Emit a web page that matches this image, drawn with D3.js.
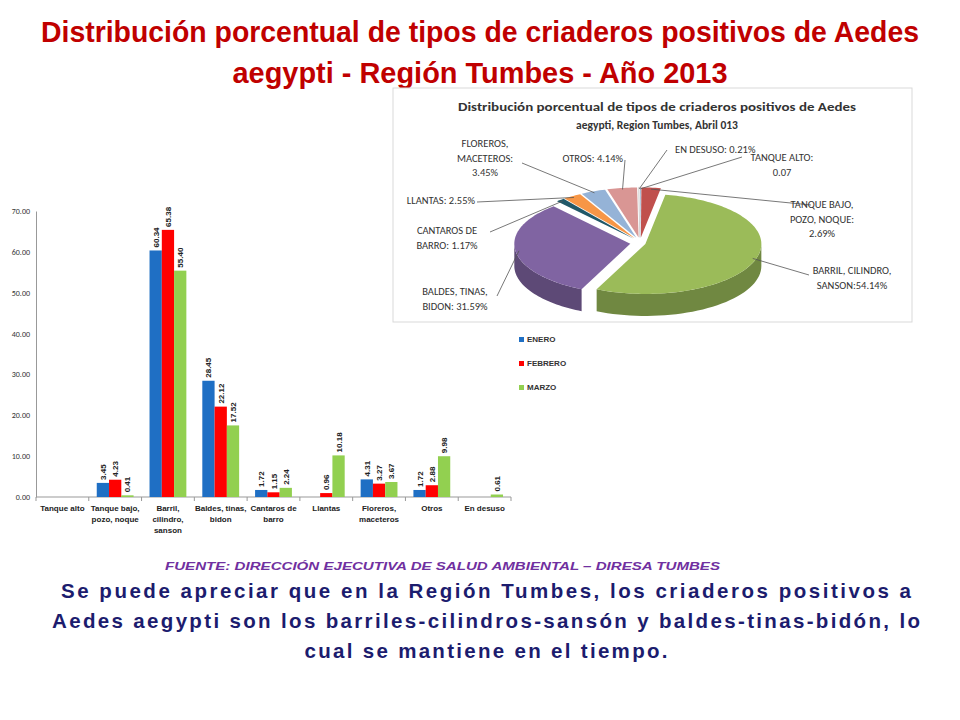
<!DOCTYPE html>
<html><head><meta charset="utf-8">
<script src="https://cdn.jsdelivr.net/npm/d3@7"></script>
<style>body{margin:0;background:#fff}svg{display:block}</style></head>
<body><svg id="c" width="960" height="720"></svg>
<script>
const categories = [["Tanque alto"],["Tanque bajo,","pozo, noque"],["Barril,","cilindro,","sanson"],["Baldes, tinas,","bidon"],["Cantaros de","barro"],["Llantas"],["Floreros,","maceteros"],["Otros"],["En desuso"]];
const enero   = [null,3.45,60.34,28.45,1.72,null,4.31,1.72,null];
const febrero = [null,4.23,65.38,22.12,1.15,0.96,3.27,2.88,null];
const marzo   = [null,0.41,55.40,17.52,2.24,10.18,3.67,9.98,0.61];
const seriesNames = ["ENERO","FEBRERO","MARZO"];
const seriesColors = ["#1f6fc4","#ff0000","#92d050"];
const yTicks = [0,10,20,30,40,50,60,70];

const pieLabels = [["TANQUE ALTO:","0.07"],["TANQUE BAJO,","POZO, NOQUE:","2.69%"],["BARRIL, CILINDRO,","SANSON:54.14%"],["BALDES, TINAS,","BIDON: 31.59%"],["CANTAROS DE","BARRO: 1.17%"],["LLANTAS: 2.55%"],["FLOREROS,","MACETEROS:","3.45%"],["OTROS: 4.14%"],["EN DESUSO: 0.21%"]];
const pieValues = [0.07,2.69,54.14,31.59,1.17,2.55,3.45,4.14,0.21];
const pieColors = ["#4f81bd","#c0504d","#9bbb59","#8064a2","#215868","#f79646","#95b3d7","#d99694","#ffffff"];
const pieLabelPos = [[782,157,"middle"],[822,204,"middle"],[852,270,"middle"],[455,291,"middle"],[447,230,"middle"],[475,200,"end"],[485,143,"middle"],[623,158,"end"],[675,149,"start"]];
const pieLeaderStart = [[742,157],[811,205],[809,275],[497,296],[490,232],[477,202],[522,163],[625,160],[667,150]];

const svg = d3.select("#c");
const F = "'Liberation Sans',Arial,sans-serif";

// Title
const titleLines=[["Distribución porcentual de tipos de criaderos positivos de Aedes",42,878],["aegypti  - Región Tumbes - Año 2013",83,495]];
titleLines.forEach(([s,yy,w])=>svg.append("text").attr("x",480).attr("y",yy).attr("text-anchor","middle").attr("fill","#c00000")
  .attr("font-family",F).attr("font-weight","bold").attr("font-size",29).attr("textLength",w).attr("lengthAdjust","spacingAndGlyphs").text(s));

// Bar chart
const x = d3.scaleBand().domain(d3.range(categories.length)).range([36,511]);
const xs = d3.scaleBand().domain([0,1,2]).range([0,x.bandwidth()]).paddingInner(0).paddingOuter(0.65);
const y = d3.scaleLinear().domain([0,70]).range([497,211]);
const g = svg.append("g");
g.append("g").attr("transform","translate(36,0)")
  .call(d3.axisLeft(y).tickValues(yTicks).tickFormat(d3.format(".2f")).tickSize(0).tickPadding(6))
  .call(a=>{a.select(".domain").attr("stroke","#999");a.selectAll("text").attr("font-size",8).attr("fill","#333").attr("font-family","Calibri,Carlito,'Liberation Sans',sans-serif");});
g.append("line").attr("x1",36).attr("x2",511).attr("y1",y(0)).attr("y2",y(0)).attr("stroke","#999");
g.selectAll(".tk").data(d3.range(categories.length+1)).join("line")
  .attr("x1",i=>36+i*x.step()).attr("x2",i=>36+i*x.step()).attr("y1",y(0)).attr("y2",y(0)+4).attr("stroke","#999");
const allSeries=[enero,febrero,marzo];
allSeries.forEach((s,si)=>{
  const d = s.map((v,i)=>({v,i})).filter(o=>o.v!==null);
  g.selectAll(".b"+si).data(d).join("rect")
    .attr("x",o=>x(o.i)+xs(si)).attr("width",xs.bandwidth())
    .attr("y",o=>y(o.v)).attr("height",o=>y(0)-y(o.v)).attr("fill",seriesColors[si]);
  g.selectAll(".l"+si).data(d).join("text")
    .attr("transform",o=>`translate(${x(o.i)+xs(si)+xs.bandwidth()/2+3},${y(o.v)-3}) rotate(-90)`)
    .attr("font-size",8).attr("font-weight","bold").attr("fill","#222")
    .attr("font-family",F).text(o=>o.v.toFixed(2));
});
categories.forEach((c,i)=>{
  const tx=g.append("text").attr("text-anchor","middle").attr("font-size",8).attr("font-weight","bold").attr("fill","#222").attr("font-family",F);
  c.forEach((l,k)=>tx.append("tspan").attr("x",x(i)+x.bandwidth()/2).attr("y",511+k*11).text(l));
});

// Legend
seriesNames.forEach((n,i)=>{
  svg.append("rect").attr("x",519).attr("y",337+i*24).attr("width",5).attr("height",5).attr("fill",seriesColors[i]);
  svg.append("text").attr("x",527).attr("y",342+i*24).attr("font-size",8).attr("font-weight","bold").attr("fill","#333")
    .attr("font-family",F).text(n);
});

// Pie box
svg.append("rect").attr("x",393).attr("y",88).attr("width",519).attr("height",234).attr("fill","#fff").attr("stroke","#d9d9d9");
const pt = svg.append("text").attr("text-anchor","middle").attr("font-size",11.5).attr("font-weight","bold").attr("fill","#333").attr("font-family","Calibri,Carlito,'Liberation Sans',sans-serif");
pt.append("tspan").attr("x",657).attr("y",111).attr("textLength",398).attr("lengthAdjust","spacingAndGlyphs").text("Distribución porcentual de tipos de criaderos positivos de Aedes");
pt.append("tspan").attr("x",657).attr("y",129).text("aegypti, Region Tumbes, Abril 013");

const cx=640, cy=243, rx=116, ry=50, depth=22, ex=7;
const arcs = d3.pie().sort(null).value(d=>d)(pieValues);
const P=(a,r,ox,oy,dz=0)=>[cx+ox+r*rx*Math.sin(a), cy+oy-r*ry*Math.cos(a)+dz];
const off = arcs.map((a,i)=>{const m=(a.startAngle+a.endAngle)/2; const e= i===2?4:ex; return [e*Math.sin(m)*1.4, -e*Math.cos(m)*0.8];});
const pg = svg.append("g");
arcs.forEach((a,i)=>{
  const [ox,oy]=off[i];
  const a0=Math.max(a.startAngle,Math.PI/2), a1=Math.min(a.endAngle,3*Math.PI/2);
  if(a1>a0){
    const pts=[], n=40;
    for(let k=0;k<=n;k++) pts.push(P(a0+(a1-a0)*k/n,1,ox,oy));
    for(let k=n;k>=0;k--) pts.push(P(a0+(a1-a0)*k/n,1,ox,oy,depth));
    pg.append("path").attr("d","M"+pts.join("L")+"Z").attr("fill",d3.color(pieColors[i]).darker(0.9));
  }
});
arcs.forEach((a,i)=>{
  const [ox,oy]=off[i];const n=Math.max(4,Math.ceil((a.endAngle-a.startAngle)*40));
  const pts=[[cx+ox,cy+oy]];
  for(let k=0;k<=n;k++) pts.push(P(a.startAngle+(a.endAngle-a.startAngle)*k/n,1,ox,oy));
  pg.append("path").attr("d","M"+pts.join("L")+"Z").attr("fill",pieColors[i]).attr("stroke",i===8?"#bbb":"none").attr("stroke-width",0.5);
});
arcs.forEach((a,i)=>{
  const [ox,oy]=off[i]; const m=(a.startAngle+a.endAngle)/2;
  const e=P(m,0.97,ox,oy);
  svg.append("path").attr("d",`M${pieLeaderStart[i]}L${e}`).attr("stroke","#555").attr("stroke-width",0.8).attr("fill","none");
  const [lx,ly,an]=pieLabelPos[i];
  const tx=svg.append("text").attr("text-anchor",an).attr("font-size",10.5).attr("fill","#333").attr("font-family","Calibri,Carlito,'Liberation Sans',sans-serif");
  pieLabels[i].forEach((l,k)=>tx.append("tspan").attr("x",lx).attr("y",ly+4+k*14.5).text(l));
});

// Source & conclusion
svg.append("text").attr("x",165).attr("y",570).attr("font-size",11.5).attr("font-style","italic").attr("font-weight","bold")
  .attr("fill","#7030a0").attr("font-family",F).attr("textLength",555).attr("lengthAdjust","spacingAndGlyphs")
  .text("FUENTE: DIRECCIÓN EJECUTIVA  DE  SALUD AMBIENTAL – DIRESA TUMBES");
const conc=[["Se puede apreciar que en la Región Tumbes, los criaderos positivos a",850],["Aedes aegypti son los barriles-cilindros-sansón  y baldes-tinas-bidón,  lo",868],["cual se mantiene en el tiempo.",363]];
conc.forEach(([l,w],k)=>svg.append("text").attr("text-anchor","middle").attr("font-size",20.5).attr("font-weight","bold").attr("fill","#1c1c6e")
  .attr("font-family",F).attr("x",486).attr("y",598+k*30).attr("textLength",w).attr("lengthAdjust","spacing").text(l));
</script></body></html>
